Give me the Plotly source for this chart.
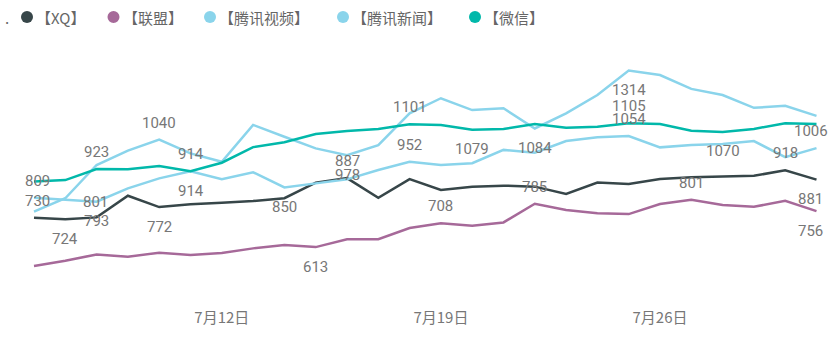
import plotly.graph_objects as go
import pandas as pd

# ---------------- data ----------------
dates = [d.strftime("%Y-%m-%d") for d in pd.date_range("2021-07-06", "2021-07-31")]
series_names = ["XQ", "联盟", "腾讯视频", "腾讯新闻", "微信"]

xq = [730, 724, 731, 817, 772, 783, 789, 796, 807, 869, 887, 809, 883,
      840, 853, 857, 853, 824, 869, 864, 883, 890, 893, 896, 918, 881]
lianmeng = [538, 559, 584, 575, 591, 582, 590, 608, 621, 613, 644, 644, 689,
            708, 698, 711, 785, 760, 747, 744, 784, 801, 780, 773, 797, 756]
tx_video = [754, 807, 939, 996, 1040, 985, 952, 1098, 1051, 1005, 978, 1018, 1144,
            1204, 1157, 1164, 1084, 1144, 1217, 1314, 1296, 1241, 1217, 1166, 1174, 1134]
tx_news = [809, 801, 793, 846, 886, 914, 883, 910, 850, 866, 882, 919, 952,
           939, 946, 999, 988, 1034, 1049, 1054, 1009, 1018, 1022, 1034, 970, 1006]
weixin = [873, 879, 923, 922, 935, 914, 948, 1010, 1029, 1062, 1074, 1082, 1101,
          1098, 1079, 1082, 1102, 1087, 1091, 1105, 1102, 1075, 1070, 1082, 1105, 1102]

tick_dates = ["2021-07-12", "2021-07-19", "2021-07-26"]
tick_labels = ["7月12日", "7月19日", "7月26日"]

# indices of points that carry a data label, with placement
labels_xq = [(0, "above"), (1, "below"), (4, "below"), (10, "above"), (24, "above"), (25, "below")]
labels_lianmeng = [(9, "below"), (13, "above"), (16, "above"), (21, "above"), (25, "below")]
labels_video = [(4, "above"), (10, "below"), (16, "below"), (19, "below")]
labels_news = [(0, "above"), (1, "right"), (2, "below"), (5, "below"), (8, "below"),
               (12, "above"), (19, "above"), (25, "above")]
labels_weixin = [(2, "above"), (5, "above"), (12, "above"), (14, "below"), (19, "above"), (22, "below")]

# ---------------- styling ----------------
W, H = 830, 340
colors = ["#374649", "#A66999", "#8AD4EB", "#8AD4EB", "#01B8AA"]
values = [xq, lianmeng, tx_video, tx_news, weixin]
label_sets = [labels_xq, labels_lianmeng, labels_video, labels_news, labels_weixin]

M_B = 33
plot_h = H - M_B
px_per_unit = 1 / 3.97
ref_val, ref_px = 538, 266
y_top = ref_val + ref_px / px_per_unit
y_bot = ref_val - (plot_h - ref_px) / px_per_unit

day_px = 31.3
first_px = 34
d0 = pd.Timestamp(dates[0])
x_start = d0 - pd.Timedelta(days=first_px / day_px)
x_end = d0 + pd.Timedelta(days=(W - first_px) / day_px)

fig = go.Figure()
for name, vals, col in zip(series_names, values, colors):
    fig.add_trace(go.Scatter(x=dates, y=vals, mode="lines", name=name,
                             line=dict(color=col, width=2.5), showlegend=False,
                             hoverinfo="skip"))

label_font = dict(family="Roboto, Liberation Sans, sans-serif", size=15, color="#777777")
annotations = []
for vals, lset in zip(values, label_sets):
    for idx, pos in lset:
        xs, ys = 0, 0
        if pos == "above":
            ys = 17
        elif pos == "below":
            ys = -19.5
        elif pos == "right":
            xs, ys = 30, -2
        if idx == 0:
            xs += 3
        if idx == len(dates) - 1:
            xs -= 6
        annotations.append(dict(x=dates[idx], y=vals[idx], xref="x", yref="y",
                                text=str(vals[idx]), showarrow=False,
                                xshift=xs, yshift=ys, font=label_font))

# manual legend (circles + text)
leg_y_px = 17
leg_circle_px = [27, 113.5, 210, 343, 475]
leg_font = dict(family="Noto Sans CJK SC, sans-serif", size=15, color="#666666")
shapes = []
leg_paper_y = 1 - leg_y_px / plot_h
annotations.append(dict(x=7 / W, y=leg_paper_y, xref="paper", yref="paper", text=".",
                        showarrow=False, font=leg_font, xanchor="center", yanchor="middle"))
for name, col, cx in zip(series_names, colors, leg_circle_px):
    shapes.append(dict(type="circle", xref="paper", yref="paper",
                       xsizemode="pixel", ysizemode="pixel",
                       xanchor=cx / W, yanchor=leg_paper_y,
                       x0=-6, x1=6, y0=-6, y1=6,
                       fillcolor=col, line=dict(width=0)))
    annotations.append(dict(x=(cx + 7) / W, y=leg_paper_y, xref="paper", yref="paper",
                            text="【" + name + "】", showarrow=False, font=leg_font,
                            xanchor="left", yanchor="middle"))

fig.update_layout(
    width=W, height=H,
    margin=dict(l=0, r=0, t=0, b=M_B),
    paper_bgcolor="white", plot_bgcolor="white",
    xaxis=dict(type="date", range=[x_start, x_end], showgrid=False, zeroline=False,
               showline=False, ticks="", tickvals=tick_dates, ticktext=tick_labels,
               tickfont=dict(family="Noto Sans CJK SC, sans-serif", size=15, color="#777777")),
    yaxis=dict(range=[y_bot, y_top], visible=False, showgrid=False, zeroline=False),
    annotations=annotations, shapes=shapes,
    showlegend=False,
)

fig.write_html("out.html")
